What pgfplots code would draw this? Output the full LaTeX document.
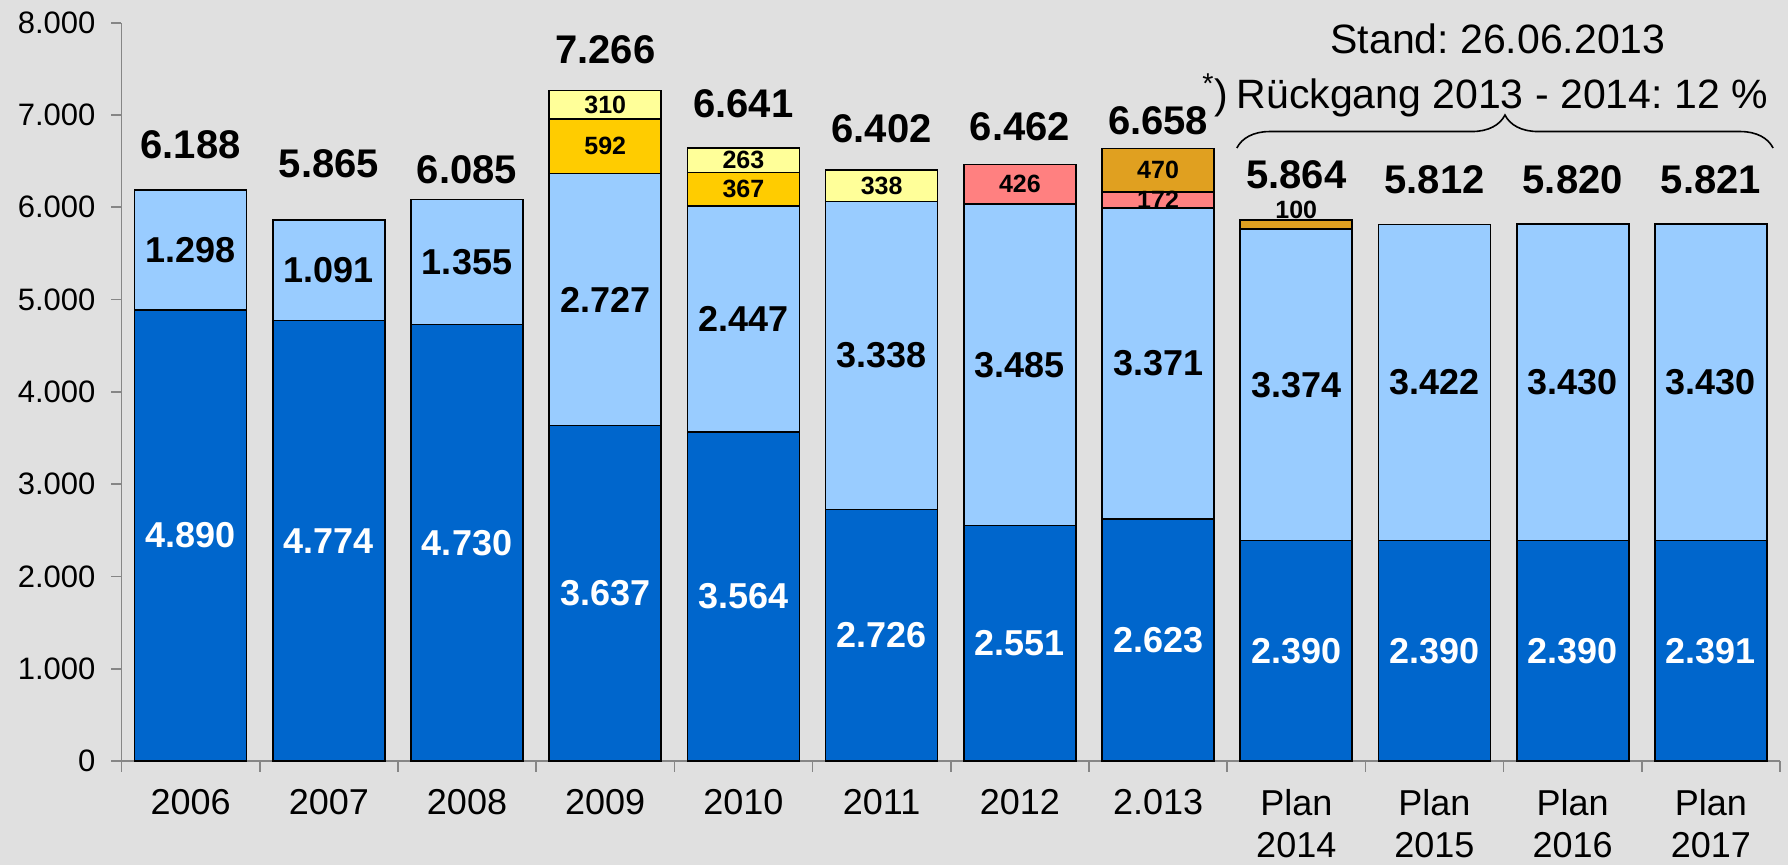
\documentclass[border=0pt]{standalone}
\usepackage{fontspec}
\setmainfont{Liberation Sans}
\usepackage{pgfplots}
\pgfplotsset{compat=1.18}
\usetikzlibrary{decorations.pathreplacing}
\frenchspacing

\definecolor{bg}{HTML}{E0E0E0}
\definecolor{dblue}{HTML}{0066CC}
\definecolor{lblue}{HTML}{99CCFF}
\definecolor{gold}{HTML}{FFCC00}
\definecolor{lyellow}{HTML}{FFFF99}
\definecolor{salmon}{HTML}{FF8080}
\definecolor{dgold}{HTML}{E0A020}
\definecolor{axgray}{HTML}{868686}

\pgfplotsset{
  base/.style={
    scale only axis, width=829.25pt, height=369.15pt,
    xmin=-0.5, xmax=11.5, ymin=0, ymax=8000, clip=false,
  },
  seg/.style={fill=#1, draw=black, line width=0.8pt},
  lbl/.style={draw=none, nodes near coords, point meta=explicit symbolic,
    nodes near coords align=center,
    every node near coord/.append style={font=\bfseries\fontsize{#1}{#1}\selectfont}},
}

\begin{document}
\begin{tikzpicture}
\fill[bg, use as bounding box] (-60.75pt,-52pt) rectangle (833.25pt,380.5pt);

% bars
\begin{axis}[base,
  ybar stacked, bar width=56pt,
  axis lines*=left,
  axis line style={axgray, line width=0.8pt},
  tick align=outside, major tick length=5pt, minor tick length=5.3pt,
  ytick={0,1000,...,8000},
  y tick style={axgray, line width=0.8pt},
  yticklabel style={font=\fontsize{15.5}{18}\selectfont, xshift=-4.5pt},
  /pgf/number format/1000 sep={.},
  /pgf/number format/assume math mode=true,
  xtick={0,...,11},
  major x tick style={draw=none},
  minor xtick={-0.5,0.5,...,11.5},
  minor x tick style={axgray, line width=0.8pt},
  xticklabels={2006,2007,2008,2009,2010,2011,2012,2.013,
    {Plan\\2014},{Plan\\2015},{Plan\\2016},{Plan\\2017}},
  xticklabel style={align=center, font=\fontsize{18}{21}\selectfont, yshift=-5.5pt},
]
\addplot[seg=dblue] coordinates {(0,4890) (1,4774) (2,4730) (3,3637) (4,3564) (5,2726)
  (6,2551) (7,2623) (8,2390) (9,2390) (10,2390) (11,2391)};
\addplot[seg=lblue] coordinates {(0,1298) (1,1091) (2,1355) (3,2727) (4,2447) (5,3338)
  (6,3485) (7,3371) (8,3374) (9,3422) (10,3430) (11,3430)};
\addplot[seg=gold] coordinates {(0,0) (1,0) (2,0) (3,592) (4,367) (5,0)
  (6,0) (7,0) (8,0) (9,0) (10,0) (11,0)};
\addplot[seg=lyellow] coordinates {(0,0) (1,0) (2,0) (3,310) (4,263) (5,338)
  (6,0) (7,0) (8,0) (9,0) (10,0) (11,0)};
\addplot[seg=salmon] coordinates {(0,0) (1,0) (2,0) (3,0) (4,0) (5,0)
  (6,426) (7,172) (8,0) (9,0) (10,0) (11,0)};
\addplot[seg=dgold] coordinates {(0,0) (1,0) (2,0) (3,0) (4,0) (5,0)
  (6,0) (7,470) (8,100) (9,0) (10,0) (11,0)};
\end{axis}

% labels
\begin{axis}[base, hide axis]
\addplot[lbl=18, every node near coord/.append style={text=white}] coordinates {
  (0,2445)[4.890] (1,2387)[4.774] (2,2365)[4.730] (3,1818)[3.637] (4,1782)[3.564]
  (5,1363)[2.726] (6,1275)[2.551] (7,1311)[2.623] (8,1195)[2.390] (9,1195)[2.390]
  (10,1195)[2.390] (11,1195)[2.391]};
\addplot[lbl=18] coordinates {
  (0,5539)[1.298] (1,5319)[1.091] (2,5407)[1.355] (3,5000)[2.727] (4,4787)[2.447]
  (5,4395)[3.338] (6,4293)[3.485] (7,4308)[3.371] (8,4077)[3.374] (9,4101)[3.422]
  (10,4105)[3.430] (11,4106)[3.430]};
\addplot[lbl=12.5] coordinates {
  (3,6660)[592] (3,7111)[310] (4,6194)[367] (4,6509)[263] (5,6233)[338]
  (6,6249)[426] (7,6080)[172] (7,6401)[470] (8,5970)[100]};
\addplot[lbl=20] coordinates {
  (0,6675)[6.188] (1,6476)[5.865] (2,6404)[6.085] (3,7704)[7.266] (4,7122)[6.641]
  (5,6846)[6.402] (6,6870)[6.462] (7,6935)[6.658] (8,6351)[5.864] (9,6297)[5.812]
  (10,6300)[5.820] (11,6300)[5.821]};

\node[anchor=base, font=\fontsize{20.5}{24}\selectfont] at (axis cs:9.46,7671) {Stand: 26.06.2013};
\node[anchor=base, font=\fontsize{20.5}{24}\selectfont] at (axis cs:9.49,7075) {Rückgang 2013 - 2014: 12 \%};
\node[anchor=base east, inner sep=0pt, font=\fontsize{20.5}{24}\selectfont] at (axis cs:7.51,7075) {\textsuperscript{*})};
\draw[decorate, decoration={brace, amplitude=16.5pt}, line width=0.8pt]
  (axis cs:7.57,6642) -- (axis cs:11.45,6642);
\end{axis}
\end{tikzpicture}
\end{document}
